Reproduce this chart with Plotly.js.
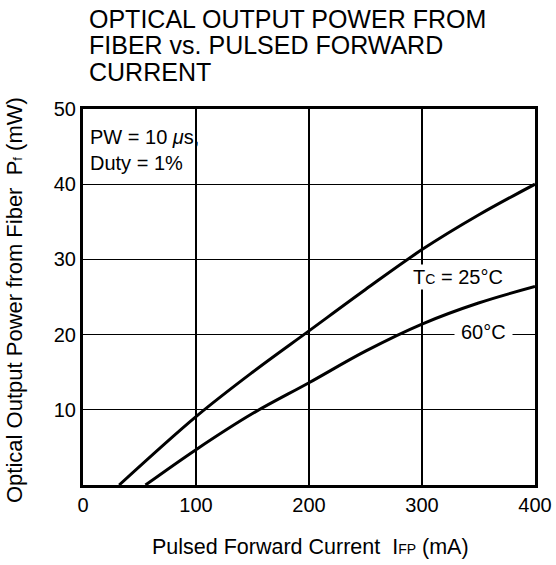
<!DOCTYPE html>
<html><head><meta charset="utf-8">
<script src="https://cdn.plot.ly/plotly-3.0.1.min.js"></script>
<style>html,body{margin:0;padding:0;background:#fff}</style>
</head><body>
<div id="chart" style="width:556px;height:565px"></div>
<script>
var currentTc25 = [32, 100, 150, 200, 250, 300, 350, 400];
var powerTc25   = [0, 9.1, 15.0, 20.5, 26.0, 31.3, 35.9, 40.0];
var currentTc60 = [55.3, 100, 150, 200, 250, 300, 350, 400];
var powerTc60   = [0, 4.7, 9.5, 13.6, 17.8, 21.4, 24.2, 26.4];
var xTicks = [0, 100, 200, 300, 400];
var yTicks = [10, 20, 30, 40, 50];
var titleLines = ['OPTICAL OUTPUT POWER FROM', 'FIBER vs. PULSED FORWARD', 'CURRENT'];

var font = 'Liberation Sans, Arial, Helvetica, sans-serif';
var W = 556, H = 565, ML = 83, MR = 21, MT = 109, MB = 80;
var PW = W - ML - MR, PH = H - MT - MB;
function px(xp) { return (xp - ML) / PW; }
function py(yp) { return (H - MB - yp) / PH; }

var traces = [
  {x: currentTc25, y: powerTc25, mode: 'lines', line: {color: '#000', width: 3, shape: 'spline'}, hoverinfo: 'skip'},
  {x: currentTc60, y: powerTc60, mode: 'lines', line: {color: '#000', width: 3, shape: 'spline'}, hoverinfo: 'skip'}
];

var annotations = titleLines.map(function (t, i) {
  return {xref: 'paper', yref: 'paper', x: px(87), y: py(18.5 + 26.8 * i), xanchor: 'left', yanchor: 'middle',
          showarrow: false, text: t, font: {size: 25}};
});
annotations.push(
  {xref: 'paper', yref: 'paper', x: px(14), y: py(300), xanchor: 'center', yanchor: 'middle', textangle: -90,
   showarrow: false, text: 'Optical Output Power from Fiber  P<span style="font-size:13px">f</span> (mW)', font: {size: 22}},
  {xref: 'paper', yref: 'paper', x: px(310), y: py(547), xanchor: 'center', yanchor: 'middle',
   showarrow: false, text: 'Pulsed Forward Current  I<span style="font-size:14px">FP</span> (mA)', font: {size: 21.5}},
  {xref: 'x', yref: 'y', x: 4, y: 44.5, xanchor: 'left', yanchor: 'middle', align: 'left', showarrow: false,
   text: 'PW = 10 <i>μ</i>s,<br>Duty = 1%', font: {size: 20}},
  {xref: 'x', yref: 'y', x: 290, y: 27.6, xanchor: 'left', yanchor: 'middle', showarrow: false,
   text: 'T<span style="font-size:14px">C</span> = 25°C', font: {size: 20}, bgcolor: '#fff', borderpad: 1},
  {xref: 'x', yref: 'y', x: 354, y: 20.4, xanchor: 'center', yanchor: 'middle', showarrow: false,
   text: '60°C', font: {size: 20}, bgcolor: '#fff', borderpad: 6}
);

var layout = {
  width: W, height: H,
  margin: {l: ML, r: MR, t: MT, b: MB},
  paper_bgcolor: '#fff', plot_bgcolor: '#fff',
  showlegend: false,
  font: {family: font, color: '#000', size: 20},
  xaxis: {
    range: [0, 400], tickvals: xTicks, ticktext: xTicks.map(String),
    showgrid: true, gridcolor: '#000', gridwidth: 1.3,
    zeroline: false, showline: true, linecolor: '#000', linewidth: 3, mirror: true,
    ticks: '', ticklen: 0, tickfont: {size: 20}
  },
  yaxis: {
    range: [0, 50], tickvals: yTicks, ticktext: yTicks.map(String),
    showgrid: true, gridcolor: '#000', gridwidth: 1.3,
    zeroline: false, showline: true, linecolor: '#000', linewidth: 3, mirror: true,
    ticks: '', ticklen: 0, tickfont: {size: 20}
  },
  annotations: annotations
};
Plotly.newPlot('chart', traces, layout, {staticPlot: true, displayModeBar: false});
</script>
</body></html>
